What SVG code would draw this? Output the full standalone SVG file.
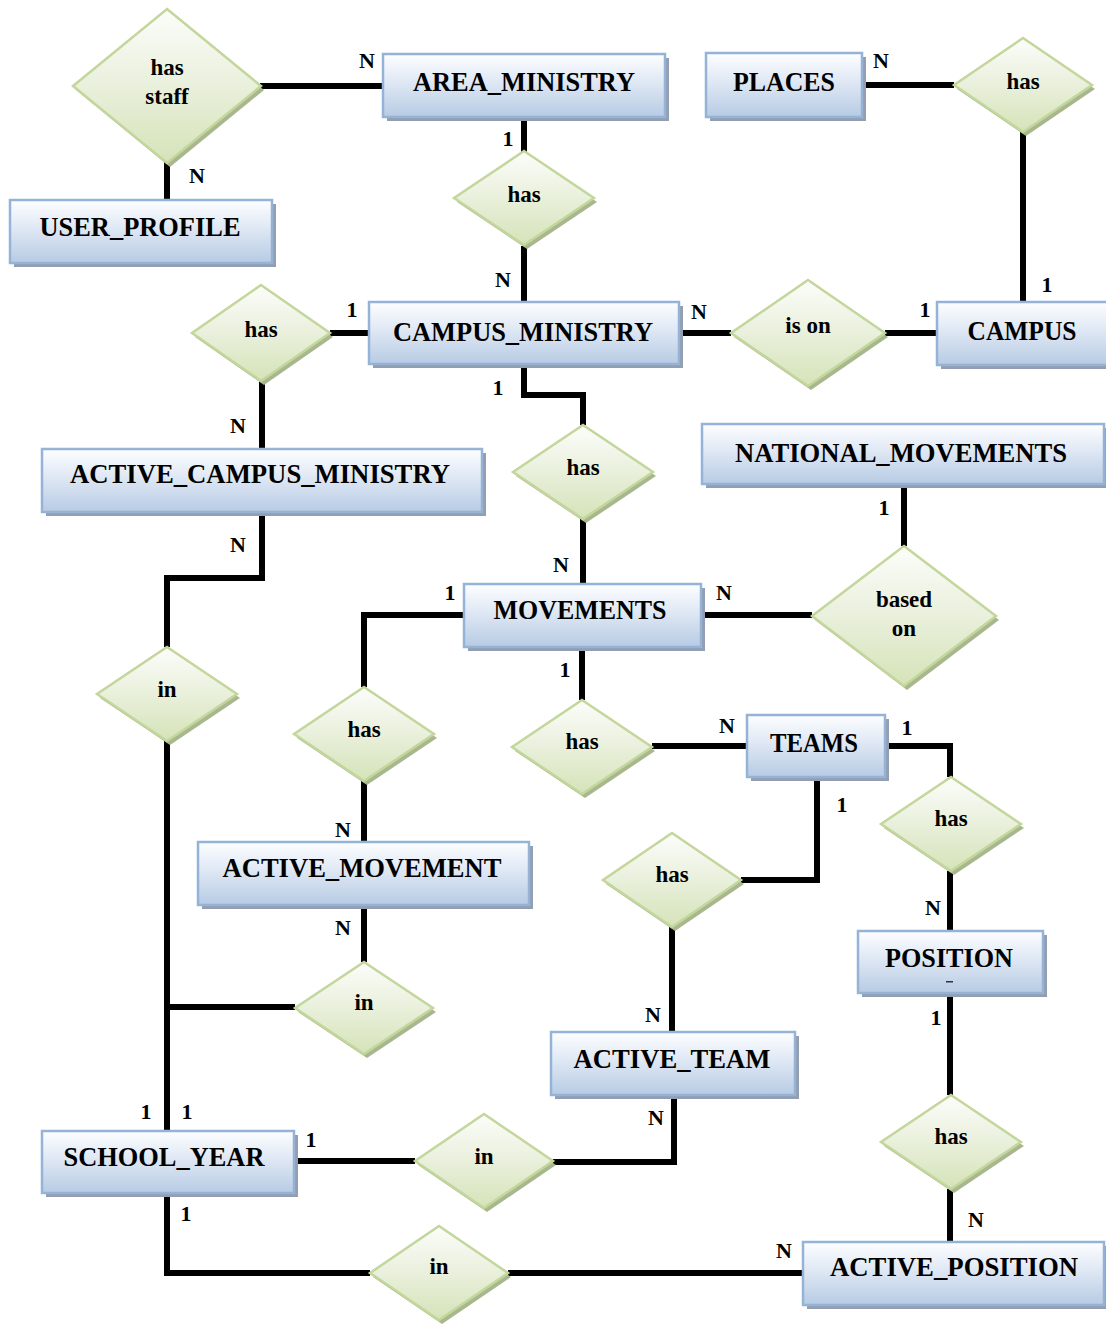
<svg xmlns="http://www.w3.org/2000/svg" width="1106" height="1326" viewBox="0 0 1106 1326">
  <defs>
    <linearGradient id="entFill" x1="0" y1="0" x2="0" y2="1">
      <stop offset="0" stop-color="#fdfeff"/>
      <stop offset="0.35" stop-color="#e6edf7"/>
      <stop offset="1" stop-color="#b7cbe4"/>
    </linearGradient>
    <linearGradient id="relFill" x1="0" y1="0" x2="0" y2="1">
      <stop offset="0" stop-color="#fcfdfa"/>
      <stop offset="0.45" stop-color="#ebf1df"/>
      <stop offset="1" stop-color="#d5e3b8"/>
    </linearGradient>
    <style>
      .ent-shadow { fill: #939fb1; }
      .ent { fill: url(#entFill); stroke: #95b3d7; stroke-width: 2.5; }
      .rel-shadow { fill: #a9b78e; }
      .rel { fill: url(#relFill); stroke: #c3d69b; stroke-width: 2.5; }
      .ent-label { font-family: "Liberation Serif", "Times New Roman", serif; font-weight: bold; font-size: 27px; fill: #000; text-anchor: middle; }
      .rel-label { font-family: "Liberation Serif", "Times New Roman", serif; font-weight: bold; font-size: 23px; fill: #000; text-anchor: middle; }
      .card { font-family: "Liberation Serif", "Times New Roman", serif; font-weight: bold; font-size: 22px; fill: #000; text-anchor: middle; }
      .link { fill: none; stroke: #000; stroke-width: 6; stroke-linejoin: miter; stroke-linecap: butt; }
    </style>
  </defs>

  <rect width="1106" height="1326" fill="#ffffff"/>

  <!-- connectors -->
  <g id="connectors">
    <path class="link" d="M260 86 H383"/>
    <path class="link" d="M167 162 V200"/>
    <path class="link" d="M524 117 V152"/>
    <path class="link" d="M524 246 V302"/>
    <path class="link" d="M862 85 H954"/>
    <path class="link" d="M1023 132 V302"/>
    <path class="link" d="M679 333 H731"/>
    <path class="link" d="M885 333 H937"/>
    <path class="link" d="M330 333 H369"/>
    <path class="link" d="M262 381 V449"/>
    <path class="link" d="M524 364 V395 H583 V425"/>
    <path class="link" d="M583 519 V584"/>
    <path class="link" d="M904 484 V546"/>
    <path class="link" d="M701 615 H812"/>
    <path class="link" d="M262 512 V578 H167 V647"/>
    <path class="link" d="M167 741 V1131"/>
    <path class="link" d="M167 1007 H295"/>
    <path class="link" d="M464 615 H364 V687"/>
    <path class="link" d="M364 781 V842"/>
    <path class="link" d="M364 905 V962"/>
    <path class="link" d="M582 647 V700"/>
    <path class="link" d="M652 746 H747"/>
    <path class="link" d="M885 746 H950 V777"/>
    <path class="link" d="M817 777 V880 H741"/>
    <path class="link" d="M672 926 V1032"/>
    <path class="link" d="M950 871 V931"/>
    <path class="link" d="M950 993 V1095"/>
    <path class="link" d="M950 1189 V1242"/>
    <path class="link" d="M294 1161 H415"/>
    <path class="link" d="M553 1162 H674 V1095"/>
    <path class="link" d="M167 1193 V1273 H370"/>
    <path class="link" d="M508 1273 H803"/>
  </g>

  <!-- entities -->
  <g id="area_ministry">
    <rect class="ent-shadow" x="387" y="58" width="282" height="63"/>
    <rect class="ent" x="383" y="54" width="282" height="63"/>
    <text class="ent-label" x="524" y="91" textLength="222" lengthAdjust="spacingAndGlyphs">AREA_MINISTRY</text>
  </g>
  <g id="user_profile">
    <rect class="ent-shadow" x="14" y="204" width="262" height="63"/>
    <rect class="ent" x="10" y="200" width="262" height="63"/>
    <text class="ent-label" x="140" y="236" textLength="201" lengthAdjust="spacingAndGlyphs">USER_PROFILE</text>
  </g>
  <g id="places">
    <rect class="ent-shadow" x="710" y="57" width="156" height="64"/>
    <rect class="ent" x="706" y="53" width="156" height="64"/>
    <text class="ent-label" x="784" y="91" textLength="102" lengthAdjust="spacingAndGlyphs">PLACES</text>
  </g>
  <g id="campus">
    <rect class="ent-shadow" x="941" y="306" width="175" height="63"/>
    <rect class="ent" x="937" y="302" width="175" height="63"/>
    <text class="ent-label" x="1022" y="340" textLength="109" lengthAdjust="spacingAndGlyphs">CAMPUS</text>
  </g>
  <g id="campus_ministry">
    <rect class="ent-shadow" x="373" y="306" width="310" height="62"/>
    <rect class="ent" x="369" y="302" width="310" height="62"/>
    <text class="ent-label" x="523" y="341" textLength="260" lengthAdjust="spacingAndGlyphs">CAMPUS_MINISTRY</text>
  </g>
  <g id="active_campus_ministry">
    <rect class="ent-shadow" x="46" y="453" width="440" height="63"/>
    <rect class="ent" x="42" y="449" width="440" height="63"/>
    <text class="ent-label" x="260" y="483" textLength="380" lengthAdjust="spacingAndGlyphs">ACTIVE_CAMPUS_MINISTRY</text>
  </g>
  <g id="national_movements">
    <rect class="ent-shadow" x="706" y="428" width="402" height="60"/>
    <rect class="ent" x="702" y="424" width="402" height="60"/>
    <text class="ent-label" x="901" y="462" textLength="332" lengthAdjust="spacingAndGlyphs">NATIONAL_MOVEMENTS</text>
  </g>
  <g id="movements">
    <rect class="ent-shadow" x="468" y="588" width="237" height="63"/>
    <rect class="ent" x="464" y="584" width="237" height="63"/>
    <text class="ent-label" x="580" y="619" textLength="173" lengthAdjust="spacingAndGlyphs">MOVEMENTS</text>
  </g>
  <g id="teams">
    <rect class="ent-shadow" x="751" y="719" width="138" height="62"/>
    <rect class="ent" x="747" y="715" width="138" height="62"/>
    <text class="ent-label" x="814" y="752" textLength="88" lengthAdjust="spacingAndGlyphs">TEAMS</text>
  </g>
  <g id="active_movement">
    <rect class="ent-shadow" x="202" y="846" width="331" height="63"/>
    <rect class="ent" x="198" y="842" width="331" height="63"/>
    <text class="ent-label" x="362" y="877" textLength="279" lengthAdjust="spacingAndGlyphs">ACTIVE_MOVEMENT</text>
  </g>
  <g id="position">
    <rect class="ent-shadow" x="862" y="935" width="185" height="62"/>
    <rect class="ent" x="858" y="931" width="185" height="62"/>
    <text class="ent-label" x="949" y="967" textLength="128" lengthAdjust="spacingAndGlyphs">POSITION</text>
    <rect x="946" y="981" width="7" height="1.5" fill="#333"/>
  </g>
  <g id="active_team">
    <rect class="ent-shadow" x="555" y="1036" width="244" height="63"/>
    <rect class="ent" x="551" y="1032" width="244" height="63"/>
    <text class="ent-label" x="672" y="1068" textLength="197" lengthAdjust="spacingAndGlyphs">ACTIVE_TEAM</text>
  </g>
  <g id="school_year">
    <rect class="ent-shadow" x="46" y="1135" width="252" height="62"/>
    <rect class="ent" x="42" y="1131" width="252" height="62"/>
    <text class="ent-label" x="164" y="1166" textLength="201" lengthAdjust="spacingAndGlyphs">SCHOOL_YEAR</text>
  </g>
  <g id="active_position">
    <rect class="ent-shadow" x="807" y="1246" width="301" height="63"/>
    <rect class="ent" x="803" y="1242" width="301" height="63"/>
    <text class="ent-label" x="954" y="1276" textLength="248" lengthAdjust="spacingAndGlyphs">ACTIVE_POSITION</text>
  </g>

  <!-- relationships -->
  <g id="rel_has_staff">
    <polygon class="rel-shadow" points="170,13 264,90 170,167 76,90"/>
    <polygon class="rel" points="167,9 261,86 167,163 73,86"/>
    <text class="rel-label" x="167" y="75">has</text>
    <text class="rel-label" x="167" y="104">staff</text>
  </g>
  <g id="rel_area_has_campus_ministry">
    <polygon class="rel-shadow" points="527,155 597,202 527,249 457,202"/>
    <polygon class="rel" points="524,151 594,198 524,245 454,198"/>
    <text class="rel-label" x="524" y="202">has</text>
  </g>
  <g id="rel_campus_has_places">
    <polygon class="rel-shadow" points="1026,42 1095,89 1026,136 957,89"/>
    <polygon class="rel" points="1023,38 1092,85 1023,132 954,85"/>
    <text class="rel-label" x="1023" y="89">has</text>
  </g>
  <g id="rel_is_on">
    <polygon class="rel-shadow" points="811,284 888,337 811,390 734,337"/>
    <polygon class="rel" points="808,280 885,333 808,386 731,333"/>
    <text class="rel-label" x="808" y="333">is on</text>
  </g>
  <g id="rel_cm_has_active_cm">
    <polygon class="rel-shadow" points="264,289 333,337 264,385 195,337"/>
    <polygon class="rel" points="261,285 330,333 261,381 192,333"/>
    <text class="rel-label" x="261" y="337">has</text>
  </g>
  <g id="rel_cm_has_movements">
    <polygon class="rel-shadow" points="586,429 656,476 586,523 516,476"/>
    <polygon class="rel" points="583,425 653,472 583,519 513,472"/>
    <text class="rel-label" x="583" y="475">has</text>
  </g>
  <g id="rel_based_on">
    <polygon class="rel-shadow" points="907,550 999,620 907,690 815,620"/>
    <polygon class="rel" points="904,546 996,616 904,686 812,616"/>
    <text class="rel-label" x="904" y="607">based</text>
    <text class="rel-label" x="904" y="636">on</text>
  </g>
  <g id="rel_acm_in_school_year">
    <polygon class="rel-shadow" points="170,651 240,698 170,745 100,698"/>
    <polygon class="rel" points="167,647 237,694 167,741 97,694"/>
    <text class="rel-label" x="167" y="697">in</text>
  </g>
  <g id="rel_movements_has_active">
    <polygon class="rel-shadow" points="367,691 437,738 367,785 297,738"/>
    <polygon class="rel" points="364,687 434,734 364,781 294,734"/>
    <text class="rel-label" x="364" y="737">has</text>
  </g>
  <g id="rel_movements_has_teams">
    <polygon class="rel-shadow" points="585,704 655,751 585,798 515,751"/>
    <polygon class="rel" points="582,700 652,747 582,794 512,747"/>
    <text class="rel-label" x="582" y="749">has</text>
  </g>
  <g id="rel_teams_has_active_team">
    <polygon class="rel-shadow" points="675,837 744,884 675,931 606,884"/>
    <polygon class="rel" points="672,833 741,880 672,927 603,880"/>
    <text class="rel-label" x="672" y="882">has</text>
  </g>
  <g id="rel_am_in_school_year">
    <polygon class="rel-shadow" points="367,966 436,1012 367,1058 298,1012"/>
    <polygon class="rel" points="364,962 433,1008 364,1054 295,1008"/>
    <text class="rel-label" x="364" y="1010">in</text>
  </g>
  <g id="rel_teams_has_position">
    <polygon class="rel-shadow" points="954,781 1024,828 954,875 884,828"/>
    <polygon class="rel" points="951,777 1021,824 951,871 881,824"/>
    <text class="rel-label" x="951" y="826">has</text>
  </g>
  <g id="rel_position_has_active">
    <polygon class="rel-shadow" points="954,1099 1024,1146 954,1193 884,1146"/>
    <polygon class="rel" points="951,1095 1021,1142 951,1189 881,1142"/>
    <text class="rel-label" x="951" y="1144">has</text>
  </g>
  <g id="rel_sy_in_active_team">
    <polygon class="rel-shadow" points="487,1118 556,1165 487,1212 418,1165"/>
    <polygon class="rel" points="484,1114 553,1161 484,1208 415,1161"/>
    <text class="rel-label" x="484" y="1164">in</text>
  </g>
  <g id="rel_sy_in_active_position">
    <polygon class="rel-shadow" points="442,1230 511,1277 442,1324 373,1277"/>
    <polygon class="rel" points="439,1226 508,1273 439,1320 370,1273"/>
    <text class="rel-label" x="439" y="1274">in</text>
  </g>

  <!-- cardinalities -->
  <g id="cardinalities">
    <text class="card" x="367" y="68">N</text>
    <text class="card" x="197" y="183">N</text>
    <text class="card" x="508" y="146">1</text>
    <text class="card" x="503" y="287">N</text>
    <text class="card" x="881" y="68">N</text>
    <text class="card" x="1047" y="292">1</text>
    <text class="card" x="925" y="317">1</text>
    <text class="card" x="699" y="319">N</text>
    <text class="card" x="352" y="317">1</text>
    <text class="card" x="498" y="395">1</text>
    <text class="card" x="238" y="433">N</text>
    <text class="card" x="238" y="552">N</text>
    <text class="card" x="884" y="515">1</text>
    <text class="card" x="561" y="572">N</text>
    <text class="card" x="450" y="600">1</text>
    <text class="card" x="724" y="600">N</text>
    <text class="card" x="565" y="677">1</text>
    <text class="card" x="727" y="733">N</text>
    <text class="card" x="907" y="735">1</text>
    <text class="card" x="842" y="812">1</text>
    <text class="card" x="343" y="837">N</text>
    <text class="card" x="343" y="935">N</text>
    <text class="card" x="933" y="915">N</text>
    <text class="card" x="936" y="1025">1</text>
    <text class="card" x="653" y="1022">N</text>
    <text class="card" x="656" y="1125">N</text>
    <text class="card" x="976" y="1227">N</text>
    <text class="card" x="784" y="1258">N</text>
    <text class="card" x="146" y="1119">1</text>
    <text class="card" x="187" y="1119">1</text>
    <text class="card" x="311" y="1147">1</text>
    <text class="card" x="186" y="1221">1</text>
  </g>
</svg>
